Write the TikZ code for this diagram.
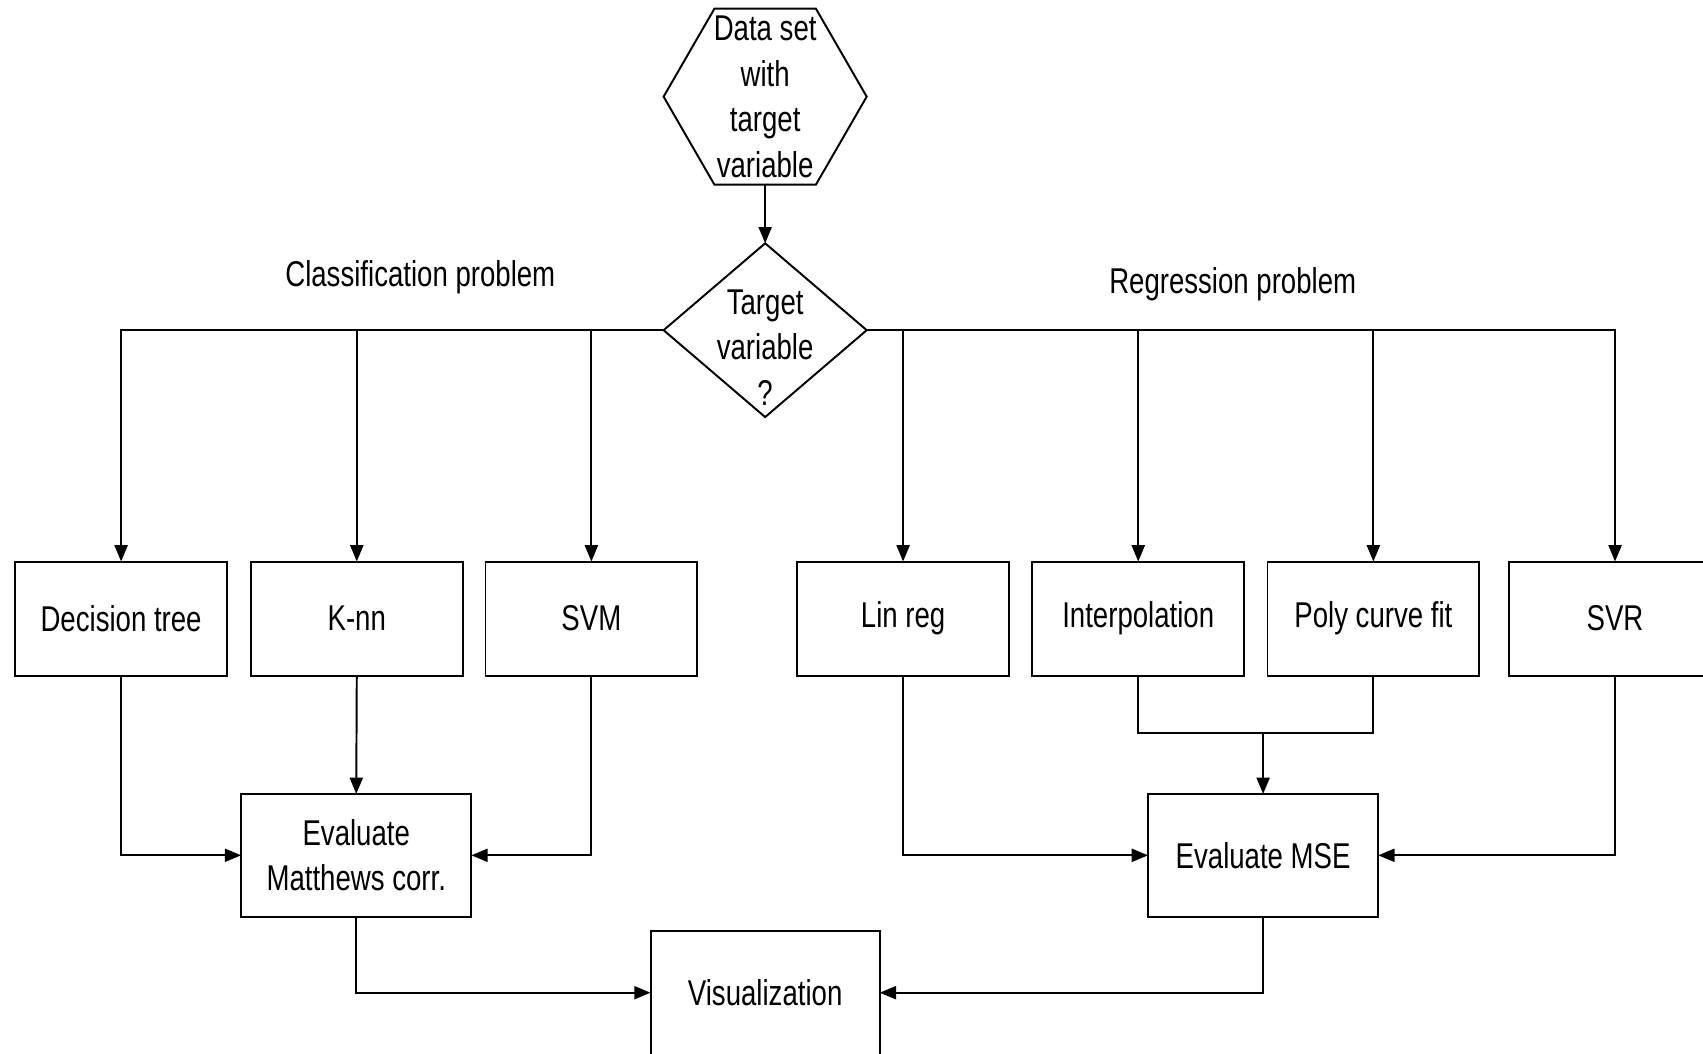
\documentclass[tikz,border=0pt]{standalone}
\usepackage{fontspec}
\setmainfont{Liberation Sans}[FakeStretch=0.77]
\usetikzlibrary{arrows.meta,shapes.geometric}

\begin{document}
\begin{tikzpicture}[x=1pt,y=-1pt,
  every node/.style={font=\fontsize{33}{42}\selectfont, align=center, inner sep=0pt, outer sep=0pt},
  line/.style={line width=1.8pt, draw=black},
  flow/.style={line, -{Triangle[length=15pt,width=12pt]}},
  algbox/.style={line, rectangle, minimum width=195pt, minimum height=105pt},
  evalbox/.style={line, rectangle, minimum width=212pt, minimum height=113pt},
  hexbox/.style={line, regular polygon, regular polygon sides=6, minimum size=187pt},
  decbox/.style={line, diamond, minimum width=187pt, minimum height=160pt},
]
\useasboundingbox (0,0) rectangle (1568,970);

% input data and the decision
\node[hexbox] (data) at (704.5,89) {};
\node (datatxt) at (704.5,89) {Data set\\with\\target\\variable};
\node[decbox] (q) at (704.5,304) {};
\node (qtxt) at (704.5,320) {Target\\variable\\?};

\node (cls) at (387,255) {Classification problem};
\node (reg) at (1135,262) {Regression problem};

% learning methods
\node[algbox] (dt)     at (111.5,569.5) {Decision tree};
\node[algbox] (knn)    at (328.5,569.5) {K-nn};
\node[algbox] (svm)    at (544.5,569.5) {SVM};
\node[algbox] (lin)    at (831.5,569.5) {Lin reg};
\node[algbox] (interp) at (1048,569.5)  {Interpolation};
\node[algbox] (poly)   at (1264.5,569.5) {Poly curve fit};
\node[algbox] (svr)    at (1487,569.5)  {SVR};

% evaluation and output
\node[evalbox] (mat) at (328,787.5)  {Evaluate\\Matthews corr.};
\node[evalbox] (mse) at (1163,787.5) {Evaluate MSE};
\node[evalbox, minimum width=211pt, minimum height=114pt] (vis) at (704.5,914) {Visualization};

\coordinate (join) at (1163,675);

% connectors
\draw[flow] (data.south) -- (q.north);
\draw[flow] (q.west) -| (dt.north);
\draw[flow] (q.west) -| (knn.north);
\draw[flow] (q.west) -| (svm.north);
\draw[flow] (q.east) -| (lin.north);
\draw[flow] (q.east) -| (interp.north);
\draw[flow] (q.east) -| (poly.north);
\draw[flow] (q.east) -| (svr.north);

\draw[flow] (dt.south) |- (mat.west);
\draw[flow] (knn.south) -- (mat.north);
\draw[flow] (svm.south) |- (mat.east);

\draw[flow] (lin.south) |- (mse.west);
\draw[line] (interp.south) |- (join);
\draw[line] (poly.south) |- (join);
\draw[flow] (join) -- (mse.north);
\draw[flow] (svr.south) |- (mse.east);

\draw[flow] (mat.south) |- (vis.west);
\draw[flow] (mse.south) |- (vis.east);
\end{tikzpicture}
\end{document}
